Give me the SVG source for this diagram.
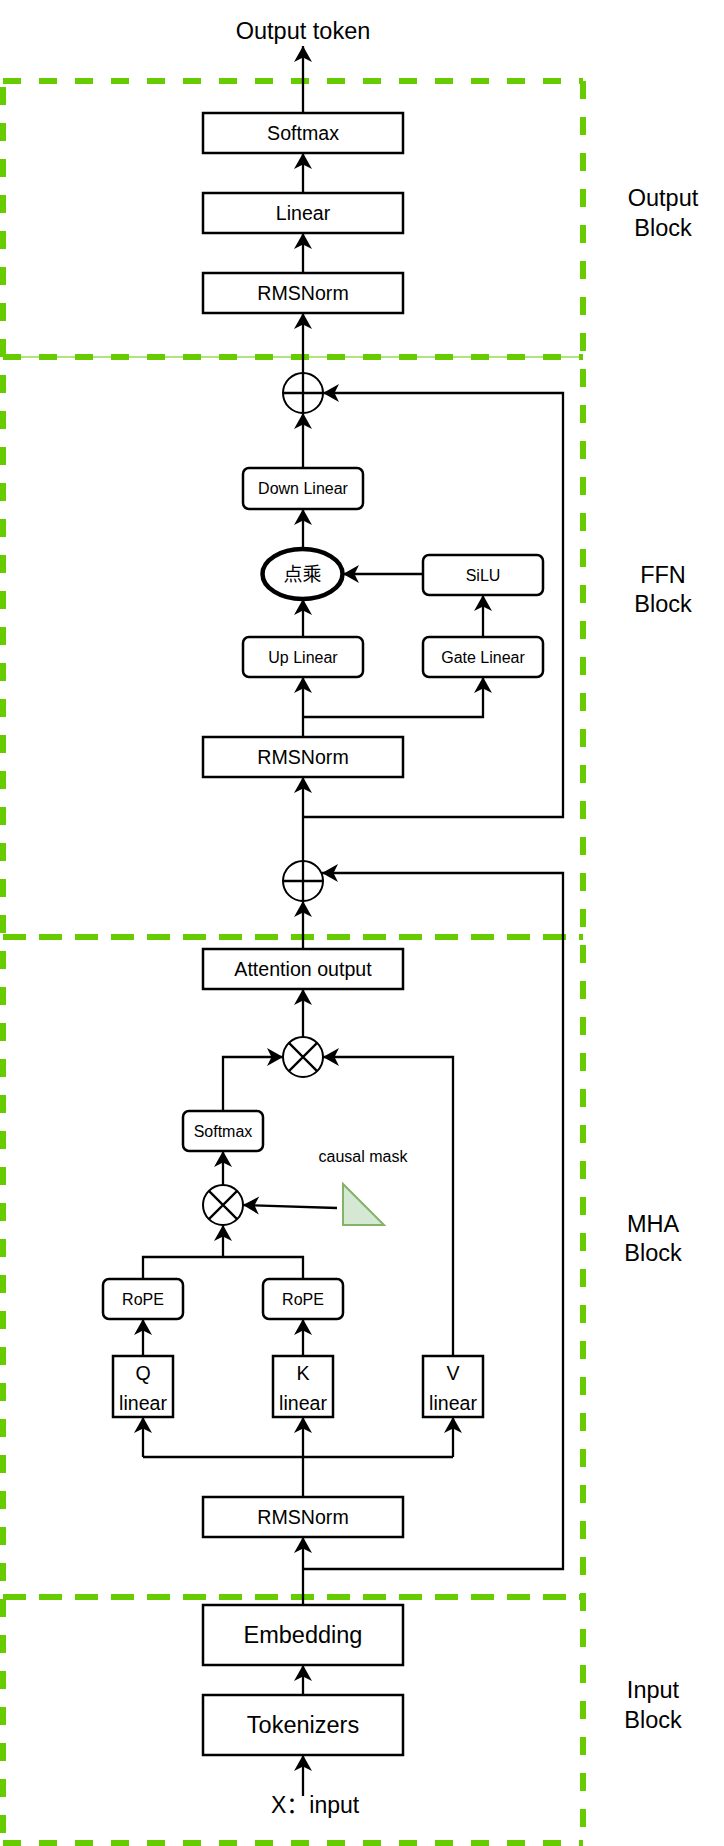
<svg xmlns="http://www.w3.org/2000/svg" width="724" height="1846" viewBox="0 0 724 1846">
<style>
.box{fill:#fff;stroke:#000;stroke-width:2.5}
.c{fill:none;stroke:#000;stroke-width:2.3}
.t{font-family:"Liberation Sans",Arial,Helvetica,sans-serif;fill:#000;text-anchor:middle}
.t20{font-size:19.6px}
.t16{font-size:16px}
.t24{font-size:23.5px}
.grp{fill:none;stroke:#66CC00;stroke-width:6}
.sym{fill:#fff;stroke:#000;stroke-width:2}
</style>
<defs>
<marker id="a" markerUnits="userSpaceOnUse" markerWidth="20" markerHeight="20" viewBox="-18 -10 20 20" refX="0" refY="0" orient="auto">
<path d="M0,0 L-16,-9 L-11.5,0 L-16,9 Z" fill="#000"/>
</marker>
</defs>

<g id="groups">
<line class="grp" x1="3" y1="87" x2="3" y2="1843" stroke-dasharray="18 18"/>
<line class="grp" x1="583" y1="81" x2="583" y2="1843" stroke-dasharray="18 18"/>
<line class="grp" x1="3" y1="81" x2="583" y2="81" stroke-dasharray="18 18"/>
<line x1="3" y1="357" x2="583" y2="357" stroke="#66CC00" stroke-width="1.2"/>
<line class="grp" x1="3" y1="357" x2="583" y2="357" stroke-dasharray="18 18"/>
<line class="grp" x1="3" y1="937" x2="583" y2="937" stroke-dasharray="23 13"/>
<line class="grp" x1="3" y1="1597" x2="583" y2="1597" stroke-dasharray="23 13"/>
<line class="grp" x1="3" y1="1843" x2="583" y2="1843" stroke-dasharray="18 18"/>
<text class="t t24" x="663" y="206">Output</text>
<text class="t t24" x="663" y="236">Block</text>
<text class="t t24" x="663" y="583">FFN</text>
<text class="t t24" x="663" y="612">Block</text>
<text class="t t24" x="653" y="1232">MHA</text>
<text class="t t24" x="653" y="1261">Block</text>
<text class="t t24" x="653" y="1698">Input</text>
<text class="t t24" x="653" y="1728">Block</text>
</g>

<g id="connectors">
<path class="c" d="M303,113 V46" marker-end="url(#a)"/>
<path class="c" d="M303,193 V153" marker-end="url(#a)"/>
<path class="c" d="M303,273 V233" marker-end="url(#a)"/>
<path class="c" d="M303,373 V313" marker-end="url(#a)"/>
<path class="c" d="M303,468 V413" marker-end="url(#a)"/>
<path class="c" d="M303,817 H563 V393 H323" marker-end="url(#a)"/>
<path class="c" d="M303,549 V509" marker-end="url(#a)"/>
<path class="c" d="M423,574 H343" marker-end="url(#a)"/>
<path class="c" d="M303,637 V599" marker-end="url(#a)"/>
<path class="c" d="M483,637 V595" marker-end="url(#a)"/>
<path class="c" d="M303,737 V677" marker-end="url(#a)"/>
<path class="c" d="M303,717 H483 V677" marker-end="url(#a)"/>
<path class="c" d="M303,861 V777" marker-end="url(#a)"/>
<path class="c" d="M303,1569 H563 V873 H322" marker-end="url(#a)"/>
<path class="c" d="M303,949 V901" marker-end="url(#a)"/>
<path class="c" d="M303,1037 V989" marker-end="url(#a)"/>
<path class="c" d="M223,1111 V1057 H283" marker-end="url(#a)"/>
<path class="c" d="M453,1356 V1057 H323" marker-end="url(#a)"/>
<path class="c" d="M223,1185 V1151" marker-end="url(#a)"/>
<path class="c" d="M337,1208 L243,1205" marker-end="url(#a)"/>
<path class="c" d="M143,1279 V1257 H303 V1279"/>
<path class="c" d="M223,1257 V1225" marker-end="url(#a)"/>
<path class="c" d="M143,1356 V1319" marker-end="url(#a)"/>
<path class="c" d="M303,1356 V1319" marker-end="url(#a)"/>
<path class="c" d="M303,1497 V1417" marker-end="url(#a)"/>
<path class="c" d="M143,1457 H453"/>
<path class="c" d="M143,1457 V1417" marker-end="url(#a)"/>
<path class="c" d="M453,1457 V1417" marker-end="url(#a)"/>
<path class="c" d="M303,1605 V1537" marker-end="url(#a)"/>
<path class="c" d="M303,1695 V1665" marker-end="url(#a)"/>
<path class="c" d="M303,1796 V1755" marker-end="url(#a)"/>
</g>

<g id="output-token"><text class="t t24" x="303" y="39">Output token</text></g>
<g id="softmax-out"><rect class="box" x="203" y="113" width="200" height="40"/><text class="t t20" x="303" y="140">Softmax</text></g>
<g id="linear-out"><rect class="box" x="203" y="193" width="200" height="40"/><text class="t t20" x="303" y="220">Linear</text></g>
<g id="rmsnorm-out"><rect class="box" x="203" y="273" width="200" height="40"/><text class="t t20" x="303" y="300">RMSNorm</text></g>

<g id="add-ffn"><circle class="sym" cx="303" cy="393" r="20"/><path class="c" d="M283,393 H323 M303,373 V413"/></g>
<g id="down-linear"><rect class="box" x="243" y="468" width="120" height="41" rx="6"/><text class="t t16" x="303" y="494">Down Linear</text></g>
<g id="dot-mul"><ellipse cx="302.5" cy="574" rx="40" ry="25" fill="#fff" stroke="#000" stroke-width="4.5"/><text x="302.5" y="581" font-family="'Noto Sans CJK SC','Liberation Sans',sans-serif" font-size="19" text-anchor="middle">点乘</text></g>
<g id="silu"><rect class="box" x="423" y="555" width="120" height="40" rx="6"/><text class="t t16" x="483" y="581">SiLU</text></g>
<g id="up-linear"><rect class="box" x="243" y="637" width="120" height="40" rx="6"/><text class="t t16" x="303" y="663">Up Linear</text></g>
<g id="gate-linear"><rect class="box" x="423" y="637" width="120" height="40" rx="6"/><text class="t t16" x="483" y="663">Gate Linear</text></g>
<g id="rmsnorm-ffn"><rect class="box" x="203" y="737" width="200" height="40"/><text class="t t20" x="303" y="764">RMSNorm</text></g>
<g id="add-mha"><circle class="sym" cx="303" cy="881" r="20"/><path class="c" d="M283,881 H323 M303,861 V901"/></g>

<g id="attn-output"><rect class="box" x="203" y="949" width="200" height="40"/><text class="t t20" x="303" y="976">Attention output</text></g>
<g id="mul-v"><circle class="sym" cx="303" cy="1057" r="20"/><path class="c" d="M288.9,1042.9 L317.1,1071.1 M317.1,1042.9 L288.9,1071.1"/></g>
<g id="softmax-attn"><rect class="box" x="183" y="1111" width="80" height="40" rx="6"/><text class="t t16" x="223" y="1137">Softmax</text></g>
<g id="causal-mask-label"><text class="t t16" x="363" y="1162">causal mask</text></g>
<g id="mul-qk"><circle class="sym" cx="223" cy="1205" r="20"/><path class="c" d="M208.9,1190.9 L237.1,1219.1 M237.1,1190.9 L208.9,1219.1"/></g>
<g id="causal-mask"><path d="M343,1184 L343,1225 L384,1225 Z" fill="#d5e8d4" stroke="#82b366" stroke-width="2"/></g>
<g id="rope-q"><rect class="box" x="103" y="1279" width="80" height="40" rx="6"/><text class="t t16" x="143" y="1305">RoPE</text></g>
<g id="rope-k"><rect class="box" x="263" y="1279" width="80" height="40" rx="6"/><text class="t t16" x="303" y="1305">RoPE</text></g>
<g id="q-linear"><rect class="box" x="113" y="1356" width="60" height="61"/><text class="t t20" x="143" y="1380">Q</text><text class="t t20" x="143" y="1410">linear</text></g>
<g id="k-linear"><rect class="box" x="273" y="1356" width="60" height="61"/><text class="t t20" x="303" y="1380">K</text><text class="t t20" x="303" y="1410">linear</text></g>
<g id="v-linear"><rect class="box" x="423" y="1356" width="60" height="61"/><text class="t t20" x="453" y="1380">V</text><text class="t t20" x="453" y="1410">linear</text></g>
<g id="rmsnorm-mha"><rect class="box" x="203" y="1497" width="200" height="40"/><text class="t t20" x="303" y="1524">RMSNorm</text></g>

<g id="embedding"><rect class="box" x="203" y="1605" width="200" height="60"/><text class="t t24" x="303" y="1643">Embedding</text></g>
<g id="tokenizers"><rect class="box" x="203" y="1695" width="200" height="60"/><text class="t t24" x="303" y="1733">Tokenizers</text></g>
<g id="input"><text x="271" y="1813" font-family="'Liberation Sans','Noto Sans CJK SC',sans-serif" font-size="23">X：input</text></g>
</svg>
